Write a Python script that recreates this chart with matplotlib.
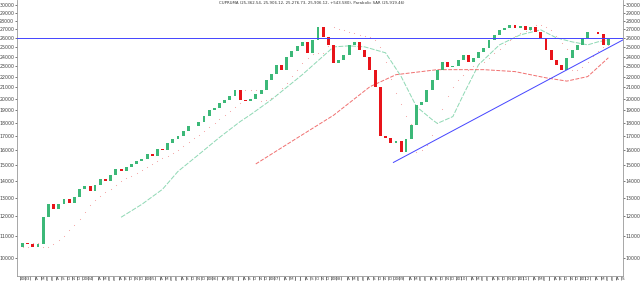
import matplotlib
matplotlib.use("Agg")
import matplotlib.pyplot as plt
import matplotlib.ticker as mticker
import pandas as pd

# monthly closes, Jan 2003 .. Jun 2012
first_month = "2003-01-01"
first_open = 10500
closes = [10700, 10650, 10490, 10620, 11940, 12630, 12360, 12630, 12910, 12690,
          13020, 13480, 13650, 13360, 13710, 14080, 13950, 14320, 14700, 14570,
          14830, 15020, 15220, 15350, 15690, 15550, 16030, 15980, 16450, 16740,
          17030, 17400, 17780, 17710, 18090, 18570, 19050, 19220, 19640, 19900,
          20250, 20780, 19900, 19820, 19990, 20430, 20780, 21700, 22270, 23160,
          22670, 23970, 24600, 25140, 25580, 24390, 25800, 27300, 26140, 25250,
          23360, 23660, 24180, 25250, 25580, 24710, 23970, 22670, 21050, 16960,
          16880, 16520, 16600, 15820, 16740, 17860, 19470, 19730, 20780, 21700,
          22670, 23460, 22960, 23060, 23660, 24180, 23460, 23870, 24500, 24920,
          25800, 26370, 26950, 27180, 27530, 27180, 27420, 26950, 27300, 26720,
          26030, 24710, 23660, 23160, 22670, 23870, 24710, 25250, 26030, 26720,
          26720, 26480, 25250, 25906]

# moving averages
green_ma_dates = ["2004-08", "2004-12", "2005-04", "2005-07", "2005-11", "2006-03",
                  "2006-07", "2006-09", "2007-01", "2007-07", "2008-01", "2008-04",
                  "2008-07", "2008-11", "2009-02", "2009-05", "2009-08", "2009-09",
                  "2009-12", "2010-02", "2010-05", "2010-09", "2011-01", "2011-05",
                  "2011-08", "2011-11", "2012-02", "2012-04", "2012-06"]
green_ma_values = [11940, 12630, 13480, 14570, 15690, 16880, 18090, 18650, 19900,
                   22180, 25030, 25140, 25030, 24390, 21990, 19310, 18250, 17950,
                   18490, 20340, 23160, 25250, 26370, 26950, 26030, 25580, 25250,
                   25580, 25800]

red_ma_dates = ["2006-10", "2007-06", "2008-01", "2008-08", "2009-01", "2009-09",
                "2009-12", "2010-06", "2010-12", "2011-06", "2011-10", "2012-02",
                "2012-06"]
red_ma_values = [15050, 16850, 18600, 21050, 22180, 22670, 22670, 22670, 22480,
                 21880, 21570, 22000, 23870]

trend_dates = ["2009-01-01", "2012-09-10"]
trend_values = [15150, 25800]
resistance = 26000

title = ("CUPRUMA (25,362.54, 25,906.12, 25,276.73, 25,906.12, +543.580), "
         "Parabolic SAR (25,919.46)")


def parabolic_sar(high, low, step=0.02, max_af=0.2):
    sar = [low[0]]
    bull = True
    af = step
    ep = high[0]
    for i in range(1, len(high)):
        s = sar[-1] + af * (ep - sar[-1])
        if bull:
            s = min(s, low[i - 1], low[max(i - 2, 0)])
            if low[i] < s:
                bull = False
                s = ep
                ep = low[i]
                af = step
            elif high[i] > ep:
                ep = high[i]
                af = min(af + step, max_af)
        else:
            s = max(s, high[i - 1], high[max(i - 2, 0)])
            if high[i] > s:
                bull = True
                s = ep
                ep = high[i]
                af = step
            elif low[i] < ep:
                ep = low[i]
                af = min(af + step, max_af)
        sar.append(s)
    return sar


dates = pd.date_range(first_month, periods=len(closes), freq="MS") + pd.Timedelta(days=15)
opens = [first_open] + closes[:-1]
tops = [max(o, c) for o, c in zip(opens, closes)]
bots = [min(o, c) for o, c in zip(opens, closes)]
colors = ["#3cb878" if c >= o else "#e8141a" for o, c in zip(opens, closes)]
sar = parabolic_sar(tops, bots, step=0.05, max_af=0.25)

fig = plt.figure(figsize=(6.4, 2.83), dpi=100)
ax = fig.add_axes([17 / 640, 7 / 283, 606 / 640, 276 / 283])
ax.set_yscale("log")

# candles
ax.bar(dates, [t - b for t, b in zip(tops, bots)], bottom=bots, width=17,
       color=colors, linewidth=0, zorder=3)
ax.scatter(dates, sar, s=0.6, color="#f4a0a0", linewidths=0, zorder=2)

ax.plot(pd.to_datetime(green_ma_dates) + pd.Timedelta(days=15), green_ma_values,
        color="#8ed8b4", lw=0.7, ls=(0, (5, 1.5)), zorder=2)
ax.plot(pd.to_datetime(red_ma_dates) + pd.Timedelta(days=15), red_ma_values,
        color="#f07070", lw=0.7, ls=(0, (4, 1.5)), zorder=2)

ax.axhline(resistance, color="#4444ff", lw=0.7, zorder=4)
ax.plot(pd.to_datetime(trend_dates), trend_values, color="#4444ff", lw=0.7, zorder=4)

ax.set_xlim(pd.Timestamp("2002-12-14"), pd.Timestamp("2012-09-10"))
ax.set_ylim(9251, 30680)

# y axis on both sides
ax.yaxis.set_major_locator(mticker.FixedLocator(range(10000, 30001, 1000)))
ax.yaxis.set_minor_locator(mticker.NullLocator())
ax.yaxis.set_major_formatter(mticker.FuncFormatter(lambda v, p: "%d" % v))
ax.tick_params(axis="y", which="both", left=True, right=True, labelleft=True,
               labelright=True, labelsize=3.4, length=1.5, width=0.5, pad=0.5,
               colors="#444444")

# month labels
month_ticks = pd.date_range("2003-01-01", "2012-09-01", freq="MS")
month_letters = {2: "", 3: "", 4: "A", 5: "M", 6: "J", 7: "J", 8: "A",
                 9: "S", 10: "O", 11: "N", 12: "D"}
labels = [str(d.year) if d.month == 1 else month_letters[d.month] for d in month_ticks]
ax.set_xticks(month_ticks)
ax.set_xticklabels(labels, ha="left")
ax.tick_params(axis="x", labelsize=3, length=3, width=0.4, pad=-2.6, colors="#444444")

for side in ["left", "right", "bottom"]:
    ax.spines[side].set_color("#999999")
    ax.spines[side].set_linewidth(0.6)
ax.spines["top"].set_visible(False)

ax.text(0.487, 0.995, title, transform=ax.transAxes, ha="center", va="top",
        fontsize=2.8, color="#333333")

fig.savefig("out.png", dpi=100)
